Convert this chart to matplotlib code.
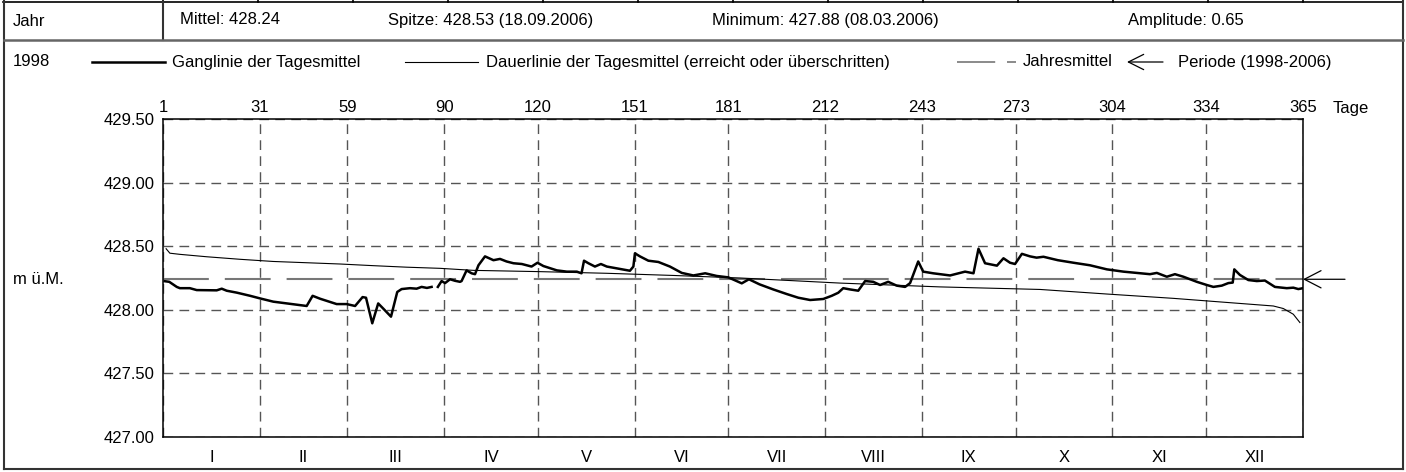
import numpy as np
import matplotlib.pyplot as plt
import matplotlib.transforms as mtransforms
from matplotlib.lines import Line2D

plt.rcParams['font.family'] = ['Liberation Sans', 'DejaVu Sans']
plt.rcParams['lines.scale_dashes'] = False

# --- data ---
year = '1998'
mittel = 428.24
header = ['Mittel: 428.24', 'Spitze: 428.53 (18.09.2006)',
          'Minimum: 427.88 (08.03.2006)', 'Amplitude: 0.65']

day_ticks = [0, 31, 59, 90, 120, 151, 181, 212, 243, 273, 304, 334, 365]
day_labels = ['1', '31', '59', '90', '120', '151', '181', '212', '243', '273', '304', '334', '365']
months = ['I', 'II', 'III', 'IV', 'V', 'VI', 'VII', 'VIII', 'IX', 'X', 'XI', 'XII']
y_ticks = [427.0, 427.5, 428.0, 428.5, 429.0, 429.5]

gang_day = [0.5, 2, 4.4, 5.4, 8.6, 10.8, 17.2, 18.8, 20.4, 23.6, 27.9, 31, 35.3, 39.6,
            42.8, 46, 47.9, 50.3, 52.4, 55.6, 58.8, 61.5, 63.9, 65, 67, 68.9, 70.5,
            73, 75, 76.4, 79.1, 81.2, 82.8, 84.5, 86, 87, 88, 89.2, 90.3, 91.9, 93.5,
            95.1, 95.6, 97.2, 98.8, 99.9, 101, 103.1, 105.8, 107.9, 110, 112.2, 114.9,
            118, 119.9, 121.8, 126.1, 129.3, 132.5, 134, 134.8, 136.2, 138.3, 140.2,
            142.1, 145.3, 149.5, 150.6, 151.1, 152.7, 155.4, 158.6, 162.3, 166.1,
            169.8, 173.6, 177.3, 181, 185.3, 187.6, 191, 195.4, 199.7, 203.4, 207.2,
            211.4, 214.1, 216.2, 217.8, 220, 222.6, 224.8, 227.4, 229.6, 232.2, 234.9,
            237.6, 239.2, 241.8, 243.4, 246.6, 252, 256.8, 259.5, 261.1, 263.2, 267,
            269.1, 271.2, 272.8, 275, 277.6, 279.7, 281.9, 286.5, 291.5, 296.8, 302.2,
            307.5, 312.8, 316, 318.2, 321.4, 324, 326.7, 331, 334.2, 336.3, 339, 341.1,
            342.5, 343, 344.8, 347.5, 350.2, 352.8, 356, 359.8, 361.9, 363.5, 365]
gang_val = [428.225, 428.22, 428.18, 428.17, 428.17, 428.155, 428.153, 428.166, 428.15,
            428.135, 428.11, 428.09, 428.064, 428.05, 428.04, 428.03, 428.11, 428.087,
            428.07, 428.045, 428.045, 428.03, 428.10, 428.095, 427.894, 428.05, 428.01,
            427.946, 428.14, 428.163, 428.17, 428.166, 428.18, 428.172, 428.18, np.nan,
            428.18, 428.226, 428.21, 428.24, 428.228, 428.22, 428.226, 428.31, 428.287,
            428.28, 428.35, 428.42, 428.39, 428.40, 428.38, 428.366, 428.36, 428.34,
            428.37, 428.344, 428.31, 428.30, 428.30, 428.287, 428.386, 428.366, 428.34,
            428.36, 428.34, 428.326, 428.307, 428.34, 428.444, 428.42, 428.386, 428.376,
            428.34, 428.29, 428.27, 428.287, 428.266, 428.255, 428.208, 428.24, 428.20,
            428.16, 428.124, 428.095, 428.077, 428.085, 428.11, 428.134, 428.17, 428.16,
            428.15, 428.226, 428.22, 428.195, 428.22, 428.19, 428.18, 428.21, 428.38,
            428.30, 428.287, 428.27, 428.30, 428.287, 428.48, 428.366, 428.347, 428.405,
            428.37, 428.36, 428.44, 428.42, 428.41, 428.417, 428.39, 428.37, 428.35,
            428.318, 428.30, 428.287, 428.28, 428.29, 428.26, 428.28, 428.26, 428.22,
            428.195, 428.18, 428.19, 428.21, 428.214, 428.318, 428.274, 428.234, 428.226,
            428.23, 428.18, 428.17, 428.174, 428.163, 428.17]

dauer_day = [1, 2.2, 5.4, 14, 24.7, 35.3, 46, 56.7, 67.3, 78, 88.7, 99.4, 120.7, 142.1,
             163.4, 184.8, 216.8, 248.8, 280.8, 302.2, 323.5, 344.8, 355.5, 358.7, 361.9, 364]
dauer_val = [428.48, 428.445, 428.436, 428.417, 428.397, 428.38, 428.37, 428.36, 428.347,
             428.335, 428.326, 428.31, 428.30, 428.287, 428.27, 428.25, 428.21, 428.18,
             428.16, 428.124, 428.09, 428.05, 428.03, 428.01, 427.965, 427.90]

# --- figure ---
W, H = 1406, 472
fig = plt.figure(figsize=(W / 100, H / 100), dpi=100)
fs = 12
frame = '#333333'


def fline(xs, ys, **kw):
    # line in figure pixel coordinates (y from top)
    fig.add_artist(Line2D([x / W for x in xs], [1 - y / H for y in ys], **kw))


def ftext(x, y, s, **kw):
    fig.text(x / W, 1 - y / H, s, fontsize=fs, va='center', **kw)


# table frame
fline([3, 1403], [2, 2], color='black', lw=1.2)
for k in range(13):
    fline([163 + 95 * k] * 2, [0, 2], color='black', lw=1.2)
fline([4, 4], [0, 469], color=frame, lw=1.5)
fline([1403, 1403], [0, 469], color=frame, lw=1.5)
fline([4, 1403], [469, 469], color=frame, lw=1.5)
fline([163, 163], [2, 40], color=frame, lw=1.5)
fline([4, 1403], [40, 40], color='#666666', lw=1.8)

# header row
ftext(13, 21, 'Jahr')
for x, s in zip([180, 388, 712, 1128], header):
    ftext(x, 20, s)

# chart
ax = fig.add_axes([163 / W, 1 - 437 / H, 1140 / W, 318 / H])
ax.set_xlim(0, 365)
ax.set_ylim(427.0, 429.5)
ax.xaxis.tick_top()
ax.set_xticks(day_ticks)
ax.set_xticklabels(day_labels)
ax.set_yticks(y_ticks)
ax.set_yticklabels(['%.2f' % v for v in y_ticks])
ax.tick_params(length=0, labelsize=fs)
ax.tick_params(axis='x', pad=3)
ax.tick_params(axis='y', pad=6)
ax.grid(True, color='#555555', lw=1.0, dashes=(7, 4.5))
ax.set_axisbelow(True)
for sp in ax.spines.values():
    sp.set_linewidth(1.1)
    sp.set_color('black')

ax.axhline(mittel, color='#777777', lw=1.5, dashes=(33, 11.5), zorder=2)
ax.plot(dauer_day, dauer_val, color='black', lw=0.8, zorder=3)
ax.plot(gang_day, gang_val, color='black', lw=1.8, zorder=4)

ax.text(1.0 + 30 / 1140, 1.0 + 3 / 318, 'Tage', transform=ax.transAxes, fontsize=fs,
        ha='left', va='bottom')

# month numerals
month_mid = [(a + b) / 2 for a, b in zip(day_ticks[:-1], day_ticks[1:])]
trans_m = mtransforms.blended_transform_factory(ax.transData, ax.transAxes)
for xm, m in zip(month_mid, months):
    ax.text(xm, -0.063, m, transform=trans_m, fontsize=fs, ha='center', va='center')

# period mean arrow
trans_a = mtransforms.blended_transform_factory(ax.transAxes, ax.transData)
ax.annotate('', xy=(1.0, mittel), xycoords=trans_a,
            xytext=(1.0 + 42 / 1140, mittel), textcoords=trans_a,
            arrowprops=dict(arrowstyle='->,head_length=1.2,head_width=0.62', lw=0.9,
                            color='black', shrinkA=0, shrinkB=0, mutation_scale=10),
            annotation_clip=False)

# legend row
ly = 62
ftext(13, ly, year)
fline([92, 165], [ly, ly], color='black', lw=1.8)
ftext(172, ly, 'Ganglinie der Tagesmittel')
fline([405, 478], [ly, ly], color='black', lw=0.8)
ftext(486, ly, 'Dauerlinie der Tagesmittel (erreicht oder überschritten)')
fline([957, 1016], [ly, ly], color='#777777', lw=1.2, dashes=(27.5, 8.5))
ftext(1023, ly, 'Jahresmittel')
ax.annotate('', xy=(1127 / W, 1 - ly / H), xycoords='figure fraction',
            xytext=(1163 / W, 1 - ly / H), textcoords='figure fraction',
            arrowprops=dict(arrowstyle='->,head_length=1.1,head_width=0.55',
                            lw=0.9, color='black', shrinkA=0, shrinkB=0,
                            mutation_scale=10),
            annotation_clip=False)
ftext(1178, ly, 'Periode (1998-2006)')

ftext(13, 280, 'm ü.M.')

fig.savefig('out.png', dpi=100)
